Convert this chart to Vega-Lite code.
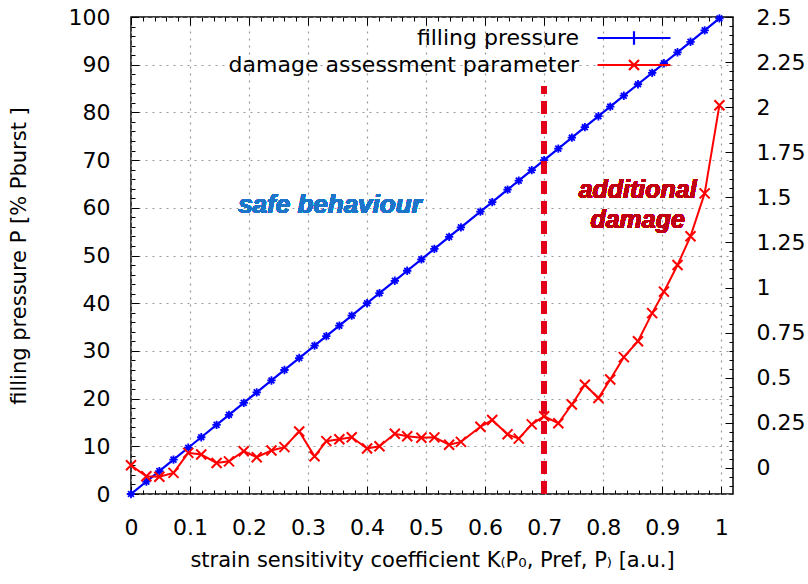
{
  "$schema": "https://vega.github.io/schema/vega-lite/v6.json",
  "width": 602,
  "height": 477,
  "autosize": {"type": "none"},
  "padding": {"left": 131, "top": 17, "right": 75, "bottom": 90},
  "background": "white",
  "config": {
    "view": {"stroke": "black", "strokeWidth": 1.5},
    "font": "DejaVu Sans",
    "axis": {
      "domain": false,
      "tickColor": "black",
      "tickWidth": 1,
      "gridColor": "#9a9a9a",
      "gridDash": [2, 5],
      "gridWidth": 1.2,
      "labelFont": "DejaVu Sans",
      "labelFontSize": 22,
      "labelColor": "black",
      "labelOverlap": false,
      "labelFlush": false,
      "titleFont": "DejaVu Sans",
      "titleFontSize": 21,
      "titleFontWeight": "normal",
      "titleColor": "black"
    }
  },
  "datasets": {
    "curves": [
      {"k": 0, "v": 0, "series": "filling pressure"},
      {"k": 0.026, "v": 2.6, "series": "filling pressure"},
      {"k": 0.048, "v": 4.8, "series": "filling pressure"},
      {"k": 0.072, "v": 7.2, "series": "filling pressure"},
      {"k": 0.097, "v": 9.7, "series": "filling pressure"},
      {"k": 0.119, "v": 11.9, "series": "filling pressure"},
      {"k": 0.145, "v": 14.5, "series": "filling pressure"},
      {"k": 0.166, "v": 16.6, "series": "filling pressure"},
      {"k": 0.191, "v": 19.1, "series": "filling pressure"},
      {"k": 0.213, "v": 21.3, "series": "filling pressure"},
      {"k": 0.238, "v": 23.8, "series": "filling pressure"},
      {"k": 0.26, "v": 26.0, "series": "filling pressure"},
      {"k": 0.285, "v": 28.5, "series": "filling pressure"},
      {"k": 0.311, "v": 31.1, "series": "filling pressure"},
      {"k": 0.331, "v": 33.1, "series": "filling pressure"},
      {"k": 0.353, "v": 35.3, "series": "filling pressure"},
      {"k": 0.374, "v": 37.4, "series": "filling pressure"},
      {"k": 0.4, "v": 40.0, "series": "filling pressure"},
      {"k": 0.421, "v": 42.1, "series": "filling pressure"},
      {"k": 0.447, "v": 44.7, "series": "filling pressure"},
      {"k": 0.468, "v": 46.8, "series": "filling pressure"},
      {"k": 0.492, "v": 49.2, "series": "filling pressure"},
      {"k": 0.514, "v": 51.4, "series": "filling pressure"},
      {"k": 0.539, "v": 53.9, "series": "filling pressure"},
      {"k": 0.559, "v": 55.9, "series": "filling pressure"},
      {"k": 0.592, "v": 59.2, "series": "filling pressure"},
      {"k": 0.612, "v": 61.2, "series": "filling pressure"},
      {"k": 0.638, "v": 63.8, "series": "filling pressure"},
      {"k": 0.657, "v": 65.7, "series": "filling pressure"},
      {"k": 0.679, "v": 67.9, "series": "filling pressure"},
      {"k": 0.7, "v": 70.0, "series": "filling pressure"},
      {"k": 0.724, "v": 72.4, "series": "filling pressure"},
      {"k": 0.747, "v": 74.7, "series": "filling pressure"},
      {"k": 0.769, "v": 76.9, "series": "filling pressure"},
      {"k": 0.792, "v": 79.2, "series": "filling pressure"},
      {"k": 0.812, "v": 81.2, "series": "filling pressure"},
      {"k": 0.835, "v": 83.5, "series": "filling pressure"},
      {"k": 0.859, "v": 85.9, "series": "filling pressure"},
      {"k": 0.883, "v": 88.3, "series": "filling pressure"},
      {"k": 0.903, "v": 90.3, "series": "filling pressure"},
      {"k": 0.926, "v": 92.6, "series": "filling pressure"},
      {"k": 0.948, "v": 94.8, "series": "filling pressure"},
      {"k": 0.972, "v": 97.2, "series": "filling pressure"},
      {"k": 0.997, "v": 99.7, "series": "filling pressure"},
      {"k": 0, "v": 0.014, "series": "damage assessment parameter"},
      {"k": 0.026, "v": -0.047, "series": "damage assessment parameter"},
      {"k": 0.048, "v": -0.049, "series": "damage assessment parameter"},
      {"k": 0.072, "v": -0.028, "series": "damage assessment parameter"},
      {"k": 0.097, "v": 0.083, "series": "damage assessment parameter"},
      {"k": 0.119, "v": 0.074, "series": "damage assessment parameter"},
      {"k": 0.145, "v": 0.027, "series": "damage assessment parameter"},
      {"k": 0.166, "v": 0.036, "series": "damage assessment parameter"},
      {"k": 0.191, "v": 0.092, "series": "damage assessment parameter"},
      {"k": 0.213, "v": 0.059, "series": "damage assessment parameter"},
      {"k": 0.238, "v": 0.096, "series": "damage assessment parameter"},
      {"k": 0.26, "v": 0.115, "series": "damage assessment parameter"},
      {"k": 0.285, "v": 0.202, "series": "damage assessment parameter"},
      {"k": 0.311, "v": 0.064, "series": "damage assessment parameter"},
      {"k": 0.331, "v": 0.148, "series": "damage assessment parameter"},
      {"k": 0.353, "v": 0.159, "series": "damage assessment parameter"},
      {"k": 0.374, "v": 0.17, "series": "damage assessment parameter"},
      {"k": 0.4, "v": 0.107, "series": "damage assessment parameter"},
      {"k": 0.421, "v": 0.12, "series": "damage assessment parameter"},
      {"k": 0.447, "v": 0.189, "series": "damage assessment parameter"},
      {"k": 0.468, "v": 0.175, "series": "damage assessment parameter"},
      {"k": 0.492, "v": 0.167, "series": "damage assessment parameter"},
      {"k": 0.514, "v": 0.169, "series": "damage assessment parameter"},
      {"k": 0.539, "v": 0.128, "series": "damage assessment parameter"},
      {"k": 0.559, "v": 0.144, "series": "damage assessment parameter"},
      {"k": 0.592, "v": 0.228, "series": "damage assessment parameter"},
      {"k": 0.612, "v": 0.265, "series": "damage assessment parameter"},
      {"k": 0.638, "v": 0.186, "series": "damage assessment parameter"},
      {"k": 0.657, "v": 0.162, "series": "damage assessment parameter"},
      {"k": 0.679, "v": 0.241, "series": "damage assessment parameter"},
      {"k": 0.7, "v": 0.286, "series": "damage assessment parameter"},
      {"k": 0.724, "v": 0.247, "series": "damage assessment parameter"},
      {"k": 0.747, "v": 0.351, "series": "damage assessment parameter"},
      {"k": 0.769, "v": 0.461, "series": "damage assessment parameter"},
      {"k": 0.792, "v": 0.387, "series": "damage assessment parameter"},
      {"k": 0.812, "v": 0.49, "series": "damage assessment parameter"},
      {"k": 0.835, "v": 0.614, "series": "damage assessment parameter"},
      {"k": 0.859, "v": 0.702, "series": "damage assessment parameter"},
      {"k": 0.883, "v": 0.858, "series": "damage assessment parameter"},
      {"k": 0.903, "v": 0.977, "series": "damage assessment parameter"},
      {"k": 0.926, "v": 1.125, "series": "damage assessment parameter"},
      {"k": 0.948, "v": 1.284, "series": "damage assessment parameter"},
      {"k": 0.972, "v": 1.522, "series": "damage assessment parameter"},
      {"k": 0.997, "v": 2.011, "series": "damage assessment parameter"}
    ]
  },
  "data": {"name": "curves"},
  "layer": [
    {
      "transform": [{"filter": "datum.series === 'filling pressure'"}],
      "mark": {
        "type": "line",
        "strokeWidth": 2.2,
        "point": {"shape": "M-1,0H1M0,-1V1M-0.7,-0.7L0.7,0.7M-0.7,0.7L0.7,-0.7", "filled": false, "size": 70, "strokeWidth": 1.8}
      },
      "encoding": {
        "x": {
          "field": "k", "type": "quantitative",
          "scale": {"domain": [0, 1.02], "nice": false, "zero": false},
          "axis": {
            "orient": "bottom",
            "title": "strain sensitivity coefficient K₍P₀, Pref, P₎ [a.u.]",
            "titlePadding": 7,
            "values": [0,0.02,0.04,0.06,0.08,0.1,0.12,0.14,0.16,0.18,0.2,0.22,0.24,0.26,0.28,0.3,0.32,0.34,0.36,0.38,0.4,0.42,0.44,0.46,0.48,0.5,0.52,0.54,0.56,0.58,0.6,0.62,0.64,0.66,0.68,0.7,0.72,0.74,0.76,0.78,0.8,0.82,0.84,0.86,0.88,0.9,0.92,0.94,0.96,0.98,1],
            "labelExpr": "abs(datum.value*10-round(datum.value*10))<0.000001 ? format(datum.value, '~g') : ''",
            "labelPadding": 31,
            "grid": true,
            "gridOpacity": {"condition": {"test": "abs(datum.value*10-round(datum.value*10))<0.000001", "value": 1}, "value": 0},
            "tickSize": {"condition": {"test": "abs(datum.value*10-round(datum.value*10))<0.000001", "value": -8}, "value": -4}
          }
        },
        "y": {
          "field": "v", "type": "quantitative",
          "scale": {"domain": [0, 100], "nice": false, "zero": false},
          "axis": {
            "orient": "left",
            "title": "filling pressure P [% Pburst ]",
            "titlePadding": 39,
            "values": [0,2,4,6,8,10,12,14,16,18,20,22,24,26,28,30,32,34,36,38,40,42,44,46,48,50,52,54,56,58,60,62,64,66,68,70,72,74,76,78,80,82,84,86,88,90,92,94,96,98,100],
            "labelExpr": "datum.value % 10 === 0 ? format(datum.value, '~g') : ''",
            "labelPadding": 29,
            "grid": true,
            "gridOpacity": {"condition": {"test": "datum.value % 10 === 0", "value": 1}, "value": 0},
            "tickSize": {"condition": {"test": "datum.value % 10 === 0", "value": -8}, "value": -4}
          }
        },
        "color": {
          "field": "series", "type": "nominal",
          "scale": {"domain": ["filling pressure", "damage assessment parameter"], "range": ["#0000ff", "#ff0000"]},
          "legend": {
            "orient": "none",
            "legendX": 492,
            "legendY": 10,
            "title": null,
            "labelAlign": "right",
            "labelOffset": -66,
            "labelFont": "DejaVu Sans",
            "labelFontSize": 22,
            "labelColor": "black",
            "labelLimit": 0,
            "symbolSize": 333,
            "symbolStrokeWidth": 2.2,
            "symbolFillColor": "transparent",
            "rowPadding": 4,
            "encode": {
              "symbols": {
                "update": {
                  "shape": {"signal": "datum.value === 'filling pressure' ? 'M-4,0H4M0,-0.75V0.75' : 'M-4,0H4M-0.55,-0.55L0.55,0.55M-0.55,0.55L0.55,-0.55'"}
                }
              }
            }
          }
        }
      }
    },
    {
      "transform": [{"filter": "datum.series === 'damage assessment parameter'"}],
      "mark": {
        "type": "line",
        "strokeWidth": 2,
        "point": {"shape": "M-1,-1L1,1M-1,1L1,-1", "filled": false, "size": 100, "strokeWidth": 2}
      },
      "encoding": {
        "x": {
          "field": "k", "type": "quantitative",
          "scale": {"domain": [0, 1.02], "nice": false, "zero": false},
          "axis": {
            "orient": "top",
            "title": null,
            "labels": false,
            "grid": false,
            "values": [0,0.02,0.04,0.06,0.08,0.1,0.12,0.14,0.16,0.18,0.2,0.22,0.24,0.26,0.28,0.3,0.32,0.34,0.36,0.38,0.4,0.42,0.44,0.46,0.48,0.5,0.52,0.54,0.56,0.58,0.6,0.62,0.64,0.66,0.68,0.7,0.72,0.74,0.76,0.78,0.8,0.82,0.84,0.86,0.88,0.9,0.92,0.94,0.96,0.98,1],
            "tickSize": {"condition": {"test": "abs(datum.value*10-round(datum.value*10))<0.000001", "value": -8}, "value": -4}
          }
        },
        "y": {
          "field": "v", "type": "quantitative",
          "scale": {"domain": [-0.145, 2.5], "nice": false, "zero": false},
          "axis": {
            "orient": "right",
            "title": null,
            "grid": false,
            "values": [-0.1,-0.05,0,0.05,0.1,0.15,0.2,0.25,0.3,0.35,0.4,0.45,0.5,0.55,0.6,0.65,0.7,0.75,0.8,0.85,0.9,0.95,1,1.05,1.1,1.15,1.2,1.25,1.3,1.35,1.4,1.45,1.5,1.55,1.6,1.65,1.7,1.75,1.8,1.85,1.9,1.95,2,2.05,2.1,2.15,2.2,2.25,2.3,2.35,2.4,2.45,2.5],
            "labelExpr": "datum.value >= 0 && abs(datum.value*4-round(datum.value*4))<0.000001 ? format(datum.value, '~g') : ''",
            "labelPadding": 31,
            "tickSize": {"condition": {"test": "abs(datum.value*4-round(datum.value*4))<0.000001", "value": -8}, "value": -4}
          }
        },
        "color": {"field": "series", "type": "nominal"}
      }
    },
    {
      "mark": {"type": "rule", "color": "#e3001b", "strokeWidth": 5, "strokeDash": [13, 7]},
      "encoding": {
        "x": {"datum": 0.7, "type": "quantitative", "scale": {"domain": [0, 1.02], "nice": false, "zero": false}, "axis": null},
        "y": {"datum": 0, "type": "quantitative", "scale": {"domain": [0, 100], "nice": false, "zero": false}, "axis": null},
        "y2": {"datum": 85.5}
      }
    },
    {
      "mark": {"type": "text", "text": "safe behaviour", "font": "Liberation Sans", "fontSize": 26, "fontWeight": "bold", "fontStyle": "italic", "fill": "#1c75c8", "strokeWidth": 0, "align": "center", "baseline": "middle"},
      "encoding": {
        "x": {"datum": 0.337, "type": "quantitative", "scale": {"domain": [0, 1.02], "nice": false, "zero": false}, "axis": null},
        "y": {"datum": 60.6, "type": "quantitative", "scale": {"domain": [0, 100], "nice": false, "zero": false}, "axis": null}
      }
    },
    {
      "mark": {"type": "text", "text": ["additional", "damage"], "lineHeight": 30, "font": "Liberation Sans", "fontSize": 25, "fontWeight": "bold", "fontStyle": "italic", "fill": "#c00010", "strokeWidth": 0, "align": "center", "baseline": "middle"},
      "encoding": {
        "x": {"datum": 0.8585, "type": "quantitative", "scale": {"domain": [0, 1.02], "nice": false, "zero": false}, "axis": null},
        "y": {"datum": 63.7, "type": "quantitative", "scale": {"domain": [0, 100], "nice": false, "zero": false}, "axis": null}
      }
    }
  ],
  "resolve": {
    "scale": {"x": "independent", "y": "independent"},
    "axis": {"x": "independent", "y": "independent"}
  }
}
